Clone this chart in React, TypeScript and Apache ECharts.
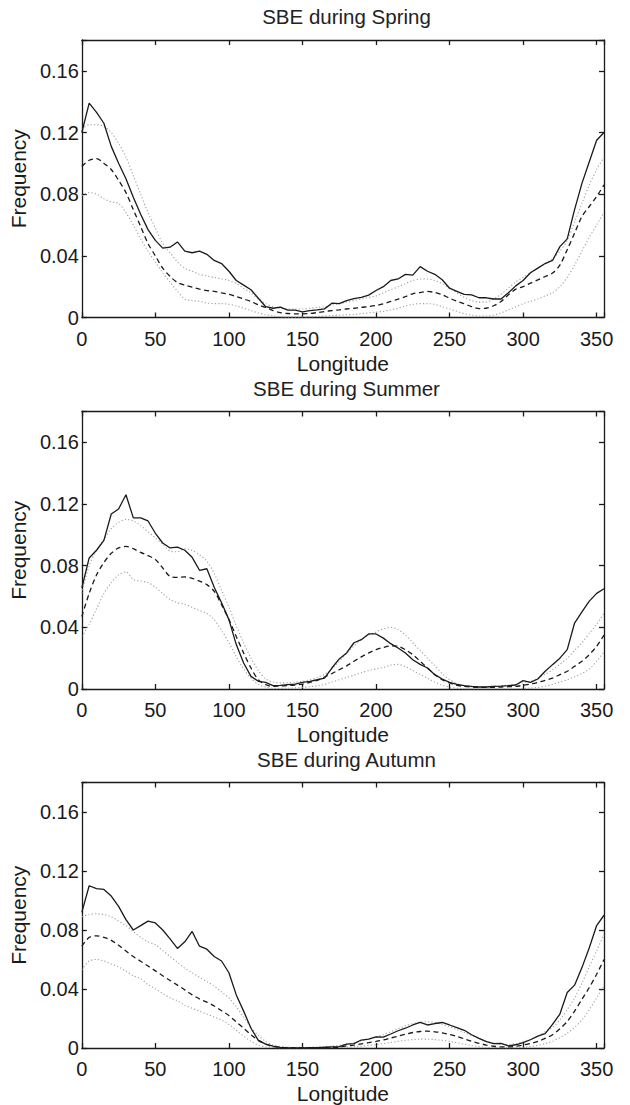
import React, { useEffect, useRef } from 'react';
import * as echarts from 'echarts';

// Longitude bins (degrees)
const LON = [0, 5, 10, 15, 20, 25, 30, 35, 40, 45, 50, 55, 60, 65, 70, 75, 80, 85, 90, 95, 100, 105, 110, 115, 120, 125, 130, 135, 140, 145, 150, 155, 160, 165, 170, 175, 180, 185, 190, 195, 200, 205, 210, 215, 220, 225, 230, 235, 240, 245, 250, 255, 260, 265, 270, 275, 280, 285, 290, 295, 300, 305, 310, 315, 320, 325, 330, 335, 340, 345, 350, 355];

const TITLES = ['SBE during Spring', 'SBE during Summer', 'SBE during Autumn'];
const X_NAME = 'Longitude';
const Y_NAME = 'Frequency';

// ---- Spring ----
const springObs = [0.120, 0.139, 0.133, 0.126, 0.111, 0.100, 0.090, 0.078, 0.067, 0.057, 0.050, 0.045, 0.0456, 0.049, 0.043, 0.042, 0.043, 0.041, 0.037, 0.035, 0.030, 0.024, 0.021, 0.018, 0.0125, 0.007, 0.006, 0.0067, 0.0048, 0.0048, 0.0037, 0.0045, 0.005, 0.0056, 0.0093, 0.009, 0.011, 0.0123, 0.013, 0.0145, 0.0175, 0.020, 0.024, 0.025, 0.028, 0.0275, 0.033, 0.030, 0.028, 0.0245, 0.019, 0.017, 0.015, 0.0147, 0.0128, 0.0128, 0.012, 0.012, 0.016, 0.0205, 0.024, 0.029, 0.032, 0.035, 0.037, 0.046, 0.051, 0.070, 0.087, 0.101, 0.115, 0.120];
const springMean = [0.098, 0.102, 0.103, 0.100, 0.096, 0.089, 0.081, 0.070, 0.059, 0.048, 0.040, 0.032, 0.0266, 0.0227, 0.021, 0.0197, 0.0184, 0.0175, 0.017, 0.016, 0.015, 0.0136, 0.012, 0.0104, 0.0082, 0.0065, 0.0045, 0.0032, 0.0026, 0.0024, 0.0024, 0.0026, 0.0032, 0.0039, 0.0045, 0.005, 0.0055, 0.006, 0.0066, 0.0071, 0.0078, 0.0089, 0.0104, 0.0119, 0.0136, 0.0154, 0.0162, 0.0169, 0.0162, 0.0147, 0.0125, 0.0106, 0.0089, 0.0071, 0.0058, 0.006, 0.0076, 0.0104, 0.0147, 0.0184, 0.020, 0.0223, 0.0244, 0.0266, 0.0288, 0.034, 0.044, 0.0547, 0.0655, 0.072, 0.0785, 0.086];
const springUpper = [0.122, 0.125, 0.125, 0.124, 0.120, 0.113, 0.104, 0.092, 0.080, 0.068, 0.058, 0.048, 0.042, 0.036, 0.032, 0.030, 0.028, 0.027, 0.026, 0.025, 0.024, 0.022, 0.019, 0.016, 0.012, 0.009, 0.007, 0.006, 0.0055, 0.0055, 0.0055, 0.006, 0.0065, 0.007, 0.008, 0.009, 0.010, 0.011, 0.012, 0.013, 0.014, 0.016, 0.018, 0.020, 0.022, 0.024, 0.025, 0.025, 0.024, 0.022, 0.019, 0.016, 0.013, 0.011, 0.010, 0.010, 0.012, 0.015, 0.019, 0.023, 0.026, 0.029, 0.032, 0.035, 0.038, 0.043, 0.050, 0.062, 0.074, 0.086, 0.096, 0.104];
const springLower = [0.079, 0.081, 0.080, 0.077, 0.075, 0.074, 0.068, 0.060, 0.051, 0.043, 0.036, 0.029, 0.023, 0.017, 0.012, 0.011, 0.0105, 0.0095, 0.009, 0.009, 0.0085, 0.0075, 0.006, 0.0045, 0.003, 0.0018, 0.001, 0.0005, 0.0003, 0.0003, 0.0003, 0.0005, 0.0007, 0.001, 0.0012, 0.0015, 0.0018, 0.002, 0.0025, 0.003, 0.0035, 0.004, 0.005, 0.006, 0.0075, 0.0085, 0.009, 0.009, 0.0085, 0.007, 0.0055, 0.004, 0.0025, 0.0015, 0.001, 0.001, 0.0015, 0.003, 0.005, 0.007, 0.009, 0.0105, 0.012, 0.014, 0.016, 0.020, 0.026, 0.034, 0.043, 0.052, 0.060, 0.068];

// ---- Summer ----
const summerObs = [0.0655, 0.085, 0.090, 0.0964, 0.1135, 0.1168, 0.126, 0.111, 0.111, 0.109, 0.101, 0.0947, 0.0915, 0.092, 0.090, 0.0854, 0.077, 0.078, 0.066, 0.056, 0.045, 0.0288, 0.0169, 0.0082, 0.005, 0.0043, 0.0022, 0.0024, 0.0028, 0.0032, 0.0043, 0.005, 0.006, 0.0071, 0.0136, 0.0195, 0.0234, 0.030, 0.032, 0.0357, 0.0357, 0.033, 0.0294, 0.0266, 0.0234, 0.019, 0.016, 0.0136, 0.0093, 0.0065, 0.0043, 0.003, 0.0022, 0.0017, 0.0013, 0.0013, 0.0017, 0.0019, 0.0022, 0.0026, 0.0054, 0.0043, 0.0065, 0.0115, 0.0158, 0.020, 0.0255, 0.0428, 0.050, 0.057, 0.062, 0.065];
const summerMean = [0.047, 0.062, 0.074, 0.082, 0.088, 0.0915, 0.0925, 0.091, 0.0886, 0.0865, 0.084, 0.0785, 0.073, 0.0724, 0.0727, 0.0718, 0.070, 0.0677, 0.0634, 0.0547, 0.045, 0.034, 0.0234, 0.0136, 0.006, 0.0028, 0.0017, 0.002, 0.0022, 0.0026, 0.0032, 0.0043, 0.0056, 0.0078, 0.010, 0.0125, 0.015, 0.018, 0.0208, 0.0234, 0.0255, 0.027, 0.028, 0.0277, 0.0255, 0.0223, 0.018, 0.0136, 0.0093, 0.006, 0.0039, 0.0024, 0.0017, 0.0013, 0.0011, 0.0011, 0.0011, 0.0013, 0.0015, 0.0017, 0.0024, 0.0032, 0.0043, 0.0056, 0.0071, 0.0093, 0.0115, 0.0147, 0.018, 0.0223, 0.0277, 0.035];
const summerUpper = [0.062, 0.080, 0.090, 0.097, 0.104, 0.108, 0.110, 0.109, 0.106, 0.102, 0.098, 0.094, 0.0895, 0.089, 0.091, 0.090, 0.087, 0.083, 0.075, 0.064, 0.053, 0.041, 0.030, 0.020, 0.012, 0.0065, 0.0045, 0.004, 0.004, 0.0045, 0.005, 0.006, 0.0075, 0.0095, 0.013, 0.018, 0.023, 0.028, 0.032, 0.035, 0.037, 0.039, 0.040, 0.0385, 0.035, 0.030, 0.025, 0.020, 0.015, 0.010, 0.006, 0.0035, 0.002, 0.0015, 0.0015, 0.0015, 0.0018, 0.002, 0.0025, 0.003, 0.004, 0.005, 0.007, 0.0095, 0.0125, 0.016, 0.020, 0.025, 0.030, 0.036, 0.042, 0.049];
const summerLower = [0.034, 0.042, 0.052, 0.062, 0.069, 0.074, 0.076, 0.071, 0.070, 0.069, 0.066, 0.062, 0.058, 0.056, 0.055, 0.053, 0.051, 0.049, 0.045, 0.038, 0.030, 0.021, 0.013, 0.007, 0.003, 0.0012, 0.0005, 0.0004, 0.0005, 0.0007, 0.001, 0.0015, 0.002, 0.003, 0.0045, 0.006, 0.0075, 0.009, 0.0105, 0.012, 0.013, 0.014, 0.0155, 0.016, 0.0145, 0.012, 0.0095, 0.007, 0.0045, 0.0025, 0.0012, 0.0005, 0.0002, 0.0001, 0.0001, 0.0001, 0.0001, 0.0001, 0.0001, 0.0002, 0.0003, 0.0006, 0.001, 0.0018, 0.003, 0.0045, 0.006, 0.008, 0.010, 0.013, 0.018, 0.024];

// ---- Autumn ----
const autumnObs = [0.092, 0.110, 0.108, 0.1075, 0.103, 0.096, 0.087, 0.080, 0.083, 0.086, 0.0848, 0.080, 0.074, 0.0675, 0.072, 0.079, 0.069, 0.067, 0.062, 0.059, 0.051, 0.036, 0.025, 0.0134, 0.0052, 0.0026, 0.0013, 0.0004, 0.0002, 0.0001, 0.0001, 0.0002, 0.0003, 0.0005, 0.0008, 0.001, 0.0026, 0.003, 0.0054, 0.006, 0.0076, 0.0074, 0.0095, 0.0117, 0.0134, 0.0156, 0.0173, 0.0156, 0.0166, 0.0173, 0.0156, 0.0138, 0.012, 0.009, 0.0065, 0.0043, 0.003, 0.0032, 0.0015, 0.0022, 0.0037, 0.0056, 0.008, 0.0097, 0.016, 0.023, 0.0376, 0.0426, 0.0545, 0.068, 0.083, 0.090];
const autumnMean = [0.069, 0.075, 0.076, 0.075, 0.073, 0.0696, 0.0657, 0.062, 0.0588, 0.0556, 0.0523, 0.049, 0.0458, 0.0426, 0.0394, 0.036, 0.0333, 0.0311, 0.0285, 0.0253, 0.022, 0.0177, 0.0134, 0.009, 0.0052, 0.0026, 0.001, 0.0005, 0.0002, 0.0001, 0.0001, 0.0001, 0.0002, 0.0002, 0.0003, 0.0006, 0.0015, 0.002, 0.0028, 0.0036, 0.0045, 0.0055, 0.0068, 0.008, 0.0093, 0.0105, 0.0112, 0.0114, 0.011, 0.0103, 0.0092, 0.0078, 0.0062, 0.0046, 0.0032, 0.002, 0.0012, 0.0008, 0.0008, 0.0012, 0.002, 0.003, 0.0045, 0.0065, 0.009, 0.013, 0.018, 0.025, 0.033, 0.041, 0.050, 0.060];
const autumnUpper = [0.089, 0.0905, 0.091, 0.0905, 0.089, 0.086, 0.083, 0.079, 0.075, 0.072, 0.070, 0.066, 0.062, 0.058, 0.054, 0.051, 0.048, 0.045, 0.042, 0.038, 0.034, 0.028, 0.021, 0.014, 0.0085, 0.0045, 0.002, 0.001, 0.0006, 0.0004, 0.0004, 0.0005, 0.0007, 0.001, 0.0013, 0.0018, 0.0025, 0.0035, 0.0048, 0.006, 0.0075, 0.009, 0.011, 0.013, 0.015, 0.0165, 0.0175, 0.0178, 0.0172, 0.016, 0.0145, 0.0125, 0.0105, 0.0085, 0.0065, 0.0047, 0.0033, 0.0025, 0.0025, 0.003, 0.0045, 0.006, 0.008, 0.011, 0.014, 0.019, 0.026, 0.034, 0.044, 0.055, 0.066, 0.077];
const autumnLower = [0.053, 0.059, 0.060, 0.059, 0.057, 0.055, 0.052, 0.049, 0.047, 0.043, 0.040, 0.037, 0.034, 0.032, 0.029, 0.027, 0.025, 0.023, 0.021, 0.019, 0.016, 0.012, 0.008, 0.0045, 0.002, 0.0008, 0.0003, 0.0001, 0.0001, 0.0001, 0.0001, 0.0001, 0.0002, 0.0002, 0.0003, 0.0004, 0.0006, 0.0009, 0.0013, 0.0018, 0.0023, 0.003, 0.0037, 0.0045, 0.0052, 0.0057, 0.006, 0.006, 0.0057, 0.0052, 0.0045, 0.0036, 0.0026, 0.0017, 0.001, 0.0005, 0.0002, 0.0001, 0.0001, 0.0002, 0.0005, 0.001, 0.0018, 0.003, 0.0045, 0.007, 0.010, 0.014, 0.019, 0.026, 0.034, 0.042];

const PANELS = [
  { obs: springObs, mean: springMean, upper: springUpper, lower: springLower },
  { obs: summerObs, mean: summerMean, upper: summerUpper, lower: summerLower },
  { obs: autumnObs, mean: autumnMean, upper: autumnUpper, lower: autumnLower },
];

const FONT = "'Liberation Sans', Arial, Helvetica, sans-serif";

export default function App() {
  const ref = useRef<HTMLDivElement>(null);

  useEffect(() => {
    if (!ref.current) return;
    const chart = echarts.init(ref.current, null, { renderer: 'svg' });

    const tops = [40, 411.5, 782.5];
    const gridH = 277.5;
    const gridLeft = 79;
    const gridW = 525;

    const grids: any[] = [];
    const xAxes: any[] = [];
    const yAxes: any[] = [];
    const titles: any[] = [];
    const series: any[] = [];

    const lineStyle = { color: '#1a1a1a', width: 1.3 };

    PANELS.forEach((p, i) => {
      grids.push({ left: gridLeft, width: gridW, top: tops[i], height: gridH, containLabel: false });
      titles.push({
        text: TITLES[i],
        left: gridLeft + gridW / 2,
        textAlign: 'center',
        top: tops[i] - 39,
        textStyle: { fontFamily: FONT, fontSize: 20.5, fontWeight: 'normal', color: '#222' },
      });
      // bottom x axis
      xAxes.push({
        type: 'value', gridIndex: i, min: 0, max: 355, interval: 50, position: 'bottom',
        name: X_NAME, nameLocation: 'middle', nameGap: 35,
        nameTextStyle: { fontFamily: FONT, fontSize: 21, color: '#1a1a1a' },
        axisLine: { show: true, onZero: false, lineStyle },
        axisTick: { show: true, inside: true, length: 5, lineStyle },
        axisLabel: {
          show: true, margin: 11, fontFamily: FONT, fontSize: 20, color: '#1a1a1a',
          formatter: (v: number) => (v > 352 ? '' : String(v)),
        },
        splitLine: { show: false },
      });
      // top x axis (ticks only)
      xAxes.push({
        type: 'value', gridIndex: i, min: 0, max: 355, interval: 50, position: 'top',
        axisLine: { show: true, onZero: false, lineStyle },
        axisTick: { show: true, inside: true, length: 5, lineStyle },
        axisLabel: { show: false },
        splitLine: { show: false },
      });
      // left y axis
      yAxes.push({
        type: 'value', gridIndex: i, min: 0, max: 0.18, interval: 0.04, position: 'left',
        name: Y_NAME, nameLocation: 'middle', nameGap: 45, nameRotate: 90,
        nameTextStyle: { fontFamily: FONT, fontSize: 21, color: '#1a1a1a' },
        axisLine: { show: true, onZero: false, lineStyle },
        axisTick: { show: true, inside: true, length: 5, lineStyle },
        axisLabel: {
          show: true, margin: 3, fontFamily: FONT, fontSize: 20, color: '#1a1a1a',
          formatter: (v: number) => (v > 0.17 ? '' : v === 0 ? '0' : v.toFixed(2)),
        },
        splitLine: { show: false },
      });
      // right y axis (ticks only)
      yAxes.push({
        type: 'value', gridIndex: i, min: 0, max: 0.18, interval: 0.04, position: 'right',
        axisLine: { show: true, onZero: false, lineStyle },
        axisTick: { show: true, inside: true, length: 5, lineStyle },
        axisLabel: { show: false },
        splitLine: { show: false },
      });

      const mk = (arr: number[]) => LON.map((x, k) => [x, arr[k]]);
      const base = { type: 'line', xAxisIndex: 2 * i, yAxisIndex: 2 * i, showSymbol: false, symbol: 'none', silent: true };
      series.push({ ...base, name: 'upper' + i, data: mk(p.upper), smooth: 0.3, lineStyle: { color: '#a0a0a0', width: 1.1, type: [1.2, 2.2] }, z: 2 });
      series.push({ ...base, name: 'lower' + i, data: mk(p.lower), smooth: 0.3, lineStyle: { color: '#a0a0a0', width: 1.1, type: [1.2, 2.2] }, z: 2 });
      series.push({ ...base, name: 'mean' + i, data: mk(p.mean), smooth: 0.3, lineStyle: { color: '#1a1a1a', width: 1.3, type: [5, 3.5] }, z: 3 });
      series.push({ ...base, name: 'obs' + i, data: mk(p.obs), lineStyle: { color: '#1a1a1a', width: 1.3 }, z: 4 });
    });

    chart.setOption({
      animation: false,
      backgroundColor: '#ffffff',
      title: titles,
      grid: grids,
      xAxis: xAxes,
      yAxis: yAxes,
      series,
    });

    return () => chart.dispose();
  }, []);

  return (
    <div
      ref={ref}
      style={{ position: 'absolute', left: 0, top: 0, width: 630, height: 1105, background: '#fff' }}
    />
  );
}
